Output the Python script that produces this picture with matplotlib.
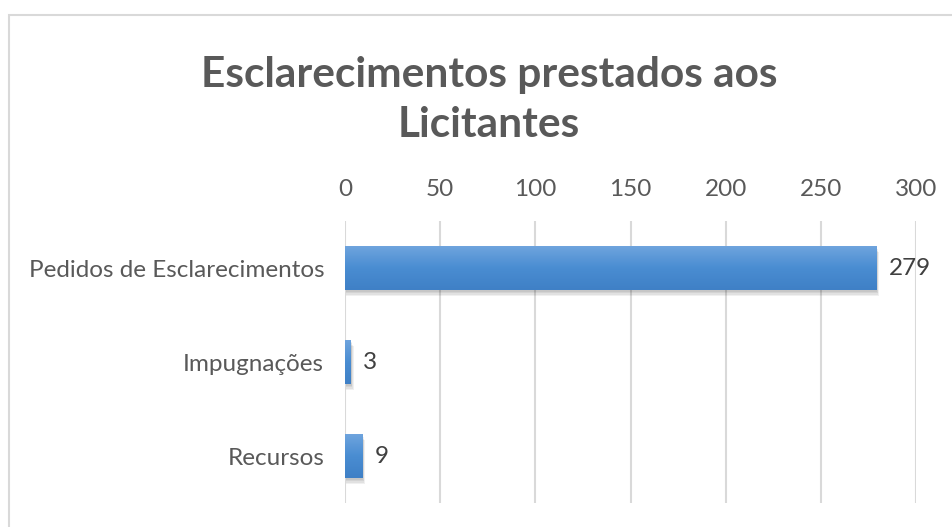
import matplotlib
matplotlib.use("Agg")
import matplotlib.pyplot as plt
import numpy as np
from matplotlib.patches import Rectangle

categorias = ["Pedidos de Esclarecimentos", "Impugnações", "Recursos"]
valores = [279, 3, 9]
ticks_x = [0, 50, 100, 150, 200, 250, 300]
titulo = "Esclarecimentos prestados aos\nLicitantes"

W, H = 953, 527
plt.rcParams["font.family"] = ["Lato", "DejaVu Sans"]

fig = plt.figure(figsize=(W / 100, H / 100), dpi=100)
fig.patch.set_facecolor("white")

# moldura do gráfico (sai pela direita e por baixo)
fig.patches.append(Rectangle((9 / W, -0.1), 1.2, 1 - 15 / H + 0.1, transform=fig.transFigure,
                             fill=False, edgecolor="#d9d9d9", linewidth=1.5))

ax = fig.add_axes([345 / W, 1 - 503 / H, 571 / W, 282 / H])
ax.set_xlim(0, 300)
ax.set_ylim(2.5, -0.5)
ax.xaxis.tick_top()
ax.set_xticks(ticks_x)
ax.set_xticklabels([str(t) for t in ticks_x])
ax.set_yticks(range(len(categorias)))
ax.set_yticklabels(categorias)
ax.tick_params(axis="both", length=0, labelsize=17.5, labelcolor="#595959")
ax.tick_params(axis="x", pad=15)
ax.tick_params(axis="y", pad=15)
for s in ax.spines.values():
    s.set_visible(False)
ax.grid(axis="x", color="#d9d9d9", linewidth=1.5)
ax.set_axisbelow(True)

altura = 0.47
grad = np.linspace(0, 1, 64).reshape(-1, 1)
cmap = matplotlib.colors.LinearSegmentedColormap.from_list("azul", ["#70a5de", "#4a8dd2", "#3f80c6"])
for i, v in enumerate(valores):
    # sombra suave
    for k in range(4):
        d = 0.02 + 0.015 * k
        ax.add_patch(Rectangle((0.3, i - altura / 2 + d), v + 0.3 + 0.3 * k, altura,
                               facecolor="#000000", alpha=0.06, edgecolor="none", zorder=2))
    bar = ax.barh(i, v, height=altura, color="#5b9bd5", zorder=3)[0]
    im = ax.imshow(grad, cmap=cmap, aspect="auto", zorder=4,
                   extent=[0, v, i + altura / 2, i - altura / 2])
    im.set_clip_path(bar)
    ax.text(v + 6.5, i, str(v), va="center", ha="left", fontsize=17.5,
            color="#404040", zorder=5)
ax.set_xlim(0, 300)
ax.set_ylim(2.5, -0.5)

fig.text(489 / W, 1 - 100 / H, titulo, ha="center", va="center", fontsize=30.5, fontweight="bold",
         color="#595959", linespacing=1.4)

fig.savefig("out.png", dpi=100)
